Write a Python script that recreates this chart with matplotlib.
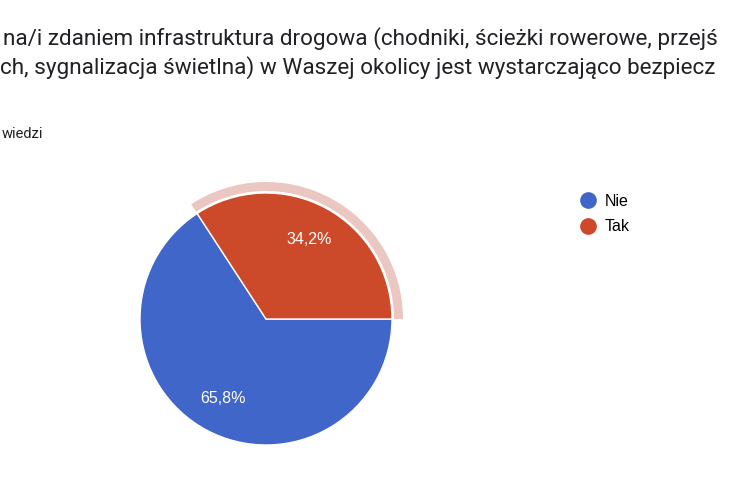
import numpy as np
import matplotlib
matplotlib.use("Agg")
import matplotlib.pyplot as plt
from matplotlib.patches import Wedge
from matplotlib.lines import Line2D

# dane z wykresu
labels = ["Nie", "Tak"]
values = [65.8, 34.2]
colors = ["#4066C9", "#CC4A29"]
highlight = "Tak"
title_lines = [
    "na/i zdaniem infrastruktura drogowa (chodniki, ścieżki rowerowe, przejś",
    "ch, sygnalizacja świetlna) w Waszej okolicy jest wystarczająco bezpiecz",
]
subtitle = "wiedzi"

W, H = 730, 480
fig = plt.figure(figsize=(W / 100, H / 100), dpi=100)
fig.patch.set_facecolor("white")

# tytul (widoczny fragment zrzutu)
fig.text(3 / W, 1 - 45 / H, title_lines[0], fontsize=16.2, family="Roboto",
         color="#202124", va="baseline", ha="left")
fig.text(0 / W, 1 - 74 / H, title_lines[1], fontsize=16.2, family="Roboto",
         color="#202124", va="baseline", ha="left")
fig.text(2 / W, 1 - 138 / H, subtitle, fontsize=10.5, family="Roboto",
         color="#202124", va="baseline", ha="left")

# wykres kolowy
cx, cy, R = 266, 319, 126
half = 145
ax = fig.add_axes([(cx - half) / W, (H - cy - half) / H, 2 * half / W, 2 * half / H])

def fmt(p):
    return f"{p:.1f}%".replace(".", ",")

wedges, _, autotexts = ax.pie(
    values, colors=colors, startangle=0, counterclock=False,
    autopct=fmt, pctdistance=0.72,
    wedgeprops=dict(edgecolor="white", linewidth=1),
    textprops=dict(color="white", fontsize=11.5, family="Liberation Sans"),
)

# podswietlenie wybranego wycinka
hi = labels.index(highlight)
w = wedges[hi]
ring = Wedge((0, 0), 137 / R, w.theta1, w.theta2, width=9 / R,
             facecolor="#EBC7C2", edgecolor="none", zorder=0)
ax.add_patch(ring)

lim = half / R
ax.set_xlim(-lim, lim)
ax.set_ylim(-lim, lim)
ax.set_aspect("equal")
ax.axis("off")

# legenda
handles = [Line2D([], [], marker="o", ls="", markersize=11,
                  markerfacecolor=c, markeredgecolor=c) for c in colors]
fig.legend(handles, labels, loc="upper left",
           bbox_to_anchor=(578 / W, 1 - 194 / H), frameon=False,
           prop=dict(family="Liberation Sans", size=11.5),
           handletextpad=0.45, labelspacing=0.65, handlelength=1.2,
           borderpad=0, borderaxespad=0)

fig.savefig("out.png", dpi=100, facecolor="white")
